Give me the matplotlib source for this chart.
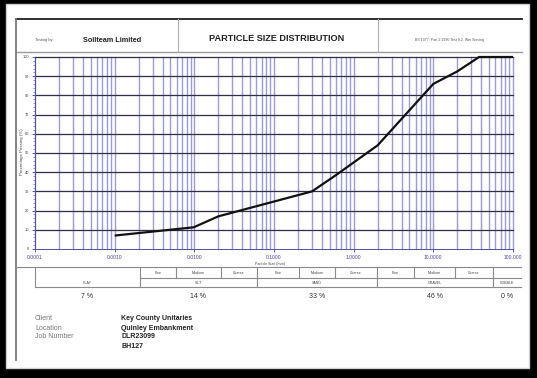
import matplotlib.pyplot as plt
import numpy as np
from matplotlib.lines import Line2D
from matplotlib.patches import Rectangle
from matplotlib.ticker import FixedLocator, MultipleLocator

W, H = 537, 378

# grading curve
size_mm = [0.001, 0.0098, 0.02, 0.3, 0.6, 2.0, 10.0, 20.0, 37.5, 100.0]
passing = [7.0, 11.3, 17.0, 30.0, 38.5, 54.0, 86.0, 92.5, 100.0, 100.0]

x_ticks = [0.0001, 0.001, 0.01, 0.1, 1, 10, 100]
x_tick_labels = ['0.0001', '0.0010', '0.0100', '0.1000', '1.0000', '10.0000', '100.000']

fractions = ['CLAY', 'SILT', 'SAND', 'GRAVEL', 'COBBLE']
fraction_pct = ['7 %', '14 %', '33 %', '46 %', '0 %']
sub_labels = ['Fine', 'Medium', 'Coarse']

info_keys = ['Client', 'Location', 'Job Number', '']
info_vals = ['Key County Unitaries', 'Quinley Embankment', 'DLR23099', 'BH127']

plt.rcParams['font.family'] = ['Liberation Sans', 'DejaVu Sans']


def fx(x):
    return x / W


def fy(y):
    return 1 - y / H


def hline(fig, x0, x1, y, c='#8a8a8a', lw=0.8):
    fig.add_artist(Line2D([fx(x0), fx(x1)], [fy(y), fy(y)], color=c, lw=lw,
                          transform=fig.transFigure))


def vline(fig, x, y0, y1, c='#8a8a8a', lw=0.8):
    fig.add_artist(Line2D([fx(x), fx(x)], [fy(y0), fy(y1)], color=c, lw=lw,
                          transform=fig.transFigure))


def txt(fig, x, y, s, **kw):
    fig.text(fx(x), fy(y), s, transform=fig.transFigure, **kw)


fig = plt.figure(figsize=(W / 100, H / 100), dpi=100, facecolor='black')

# white sheet on black
fig.add_artist(Rectangle((fx(6), fy(368)), fx(529) - fx(6), fy(4) - fy(368),
                         transform=fig.transFigure, facecolor='white',
                         edgecolor='#cfcfcf', lw=1, zorder=0))

# header frame
hline(fig, 16, 522, 19, c='#202020', lw=1.3)
hline(fig, 16, 522, 52, c='#9a9a9a', lw=1.0)
vline(fig, 16, 19, 360, c='#7a7a7a', lw=1.3)
vline(fig, 178, 19, 52, c='#b0b0b0', lw=0.8)
vline(fig, 378, 19, 52, c='#b0b0b0', lw=0.8)

txt(fig, 35, 40, 'Testing by:', fontsize=2.8, color='#555555', va='center')
txt(fig, 83, 40, 'Soilteam Limited', fontsize=5.2, fontweight='bold',
    color='#222222', va='center')
txt(fig, 277, 38.5, 'PARTICLE SIZE DISTRIBUTION', fontsize=6.6, fontweight='bold',
    color='#222222', ha='center', va='center')
txt(fig, 450, 40, 'BS 1377: Part 2:1990 Test 9.2, Wet Sieving', fontsize=2.6,
    color='#555555', ha='center', va='center')

# chart
ax = fig.add_axes([fx(35), fy(249), fx(513) - fx(35), fy(57) - fy(249)])
ax.set_xscale('log')
ax.set_xlim(0.0001, 100)
ax.set_ylim(0, 100)

grid_x = [m * 10.0 ** e for e in range(-4, 2) for m in range(1, 10)] + [100]
for g in grid_x:
    ax.axvline(g, color='#9c9cd2', lw=1.0, zorder=1, clip_on=False)
for g in range(10, 101, 10):
    ax.axhline(g, color='#2e2e48', lw=0.9, zorder=2, clip_on=False)

ax.plot(size_mm, passing, color='#111111', lw=1.6, zorder=3, clip_on=False,
        solid_capstyle='butt')

ax.xaxis.set_major_locator(FixedLocator(x_ticks))
ax.xaxis.set_minor_locator(FixedLocator([]))
ax.set_xticklabels(x_tick_labels)
ax.yaxis.set_major_locator(MultipleLocator(10))
ax.yaxis.set_minor_locator(MultipleLocator(2))
ax.tick_params(axis='x', which='major', labelsize=3.6, labelcolor='#4545a5',
               color='#4545a5', length=2.5, width=0.6, pad=1.5)
ax.tick_params(axis='y', which='major', labelsize=2.8, labelcolor='#444444',
               color='#4545a5', length=2.5, width=0.6, pad=1.5)
ax.tick_params(axis='y', which='minor', color='#4545a5', length=1.5, width=0.4)
for s in ['left', 'bottom']:
    ax.spines[s].set_color('#5050a0')
    ax.spines[s].set_linewidth(0.7)
ax.spines['top'].set_visible(False)
ax.spines['right'].set_visible(False)

txt(fig, 22, 152, 'Percentage Passing (%)', fontsize=3.2, color='#444444',
    rotation=90, ha='center', va='center')
txt(fig, 270, 264, 'Particle Size (mm)', fontsize=2.6, color='#444444',
    ha='center', va='center')

# fractions table
hline(fig, 16, 521, 267)
hline(fig, 140, 521, 277.5)
hline(fig, 35, 521, 287)
col_edges = [35, 140, 257, 377, 493, 521]
for x in col_edges[:-1]:
    vline(fig, x, 267, 287)
sub_edges = [[140, 176, 221, 257], [257, 299, 335, 377], [377, 414, 455, 493]]
for edges in sub_edges:
    for x in edges[1:-1]:
        vline(fig, x, 267, 277.5)
    for i, lab in enumerate(sub_labels):
        txt(fig, (edges[i] + edges[i + 1]) / 2, 272.5, lab, fontsize=2.6,
            color='#444444', ha='center', va='center')
for i, lab in enumerate(fractions):
    cx = (col_edges[i] + col_edges[i + 1]) / 2
    txt(fig, cx, 282.5, lab, fontsize=2.6, color='#444444', ha='center', va='center')
    txt(fig, cx, 296, fraction_pct[i], fontsize=5.0, color='#333333',
        ha='center', va='center')

# job details
for i, (k, v) in enumerate(zip(info_keys, info_vals)):
    y = 319 + i * 9
    txt(fig, 35, y, k, fontsize=5.0, color='#777777', va='center')
    txt(fig, 121, y, v, fontsize=5.0, fontweight='bold', color='#222222',
        va='center')

fig.savefig('out.png', dpi=100, facecolor='black')
